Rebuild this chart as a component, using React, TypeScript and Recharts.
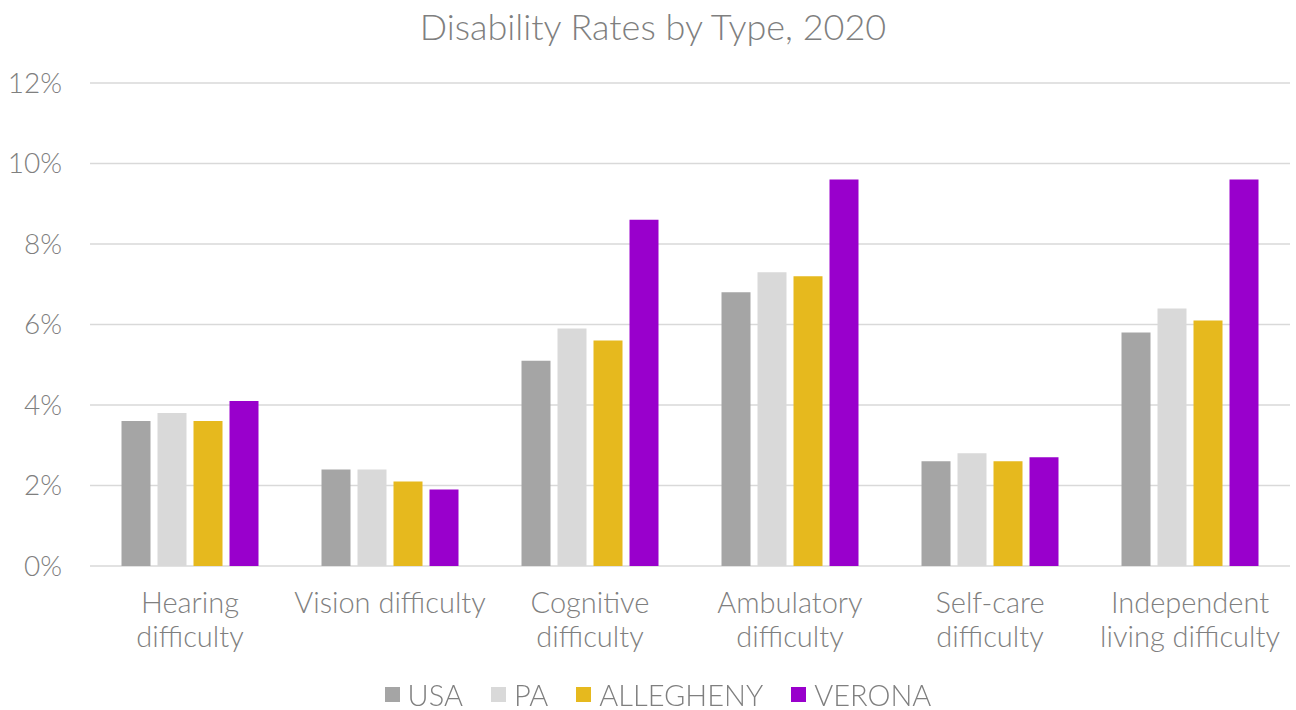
import { BarChart, Bar, XAxis, YAxis, CartesianGrid } from "recharts";

const C = {
  text: "#7f7f7f",
  grid: "#d9d9d9",
  usa: "#a5a5a5",
  pa: "#d9d9d9",
  allegheny: "#e6b91e",
  verona: "#9900cc",
};

const FONT = "Lato, 'Noto Sans', sans-serif";

const categories = [
  "Hearing\ndifficulty",
  "Vision difficulty",
  "Cognitive\ndifficulty",
  "Ambulatory\ndifficulty",
  "Self-care\ndifficulty",
  "Independent\nliving difficulty",
];
const usa = [3.6, 2.4, 5.1, 6.8, 2.6, 5.8];
const pa = [3.8, 2.4, 5.9, 7.3, 2.8, 6.4];
const allegheny = [3.6, 2.1, 5.6, 7.2, 2.6, 6.1];
const verona = [4.1, 1.9, 8.6, 9.6, 2.7, 9.6];
const yTicks = [0, 2, 4, 6, 8, 10, 12];

const series = [
  { key: "USA", color: C.usa, values: usa },
  { key: "PA", color: C.pa, values: pa },
  { key: "ALLEGHENY", color: C.allegheny, values: allegheny },
  { key: "VERONA", color: C.verona, values: verona },
];

const data = categories.map((name, i) => {
  const row: Record<string, string | number> = { name };
  series.forEach((s) => (row[s.key] = s.values[i]));
  return row;
});

function CategoryTick({ x, y, payload }: any) {
  const lines = String(payload.value).split("\n");
  return (
    <text
      x={x}
      y={y}
      textAnchor="middle"
      fill={C.text}
      fontSize={29}
      fontWeight={300}
      fontFamily={FONT}
    >
      {lines.map((line, i) => (
        <tspan key={i} x={x} dy={i === 0 ? 39 : 34}>
          {line}
        </tspan>
      ))}
    </text>
  );
}

export default function App() {
  return (
    <div
      style={{
        position: "fixed",
        left: 0,
        top: 0,
        width: 1296,
        height: 710,
        background: "#fff",
        fontFamily: FONT,
      }}
    >
      <div
        style={{
          position: "absolute",
          top: 4,
          left: 0,
          width: 1306,
          textAlign: "center",
          fontSize: 36,
          fontWeight: 300,
          color: C.text,
        }}
      >
        Disability Rates by Type, 2020
      </div>
      <BarChart
        width={1296}
        height={710}
        data={data}
        margin={{ top: 83, right: 6, bottom: 44, left: 0 }}
        barCategoryGap="15.75%"
        barGap={7}
      >
        <CartesianGrid vertical={false} stroke={C.grid} strokeWidth={1.5} />
        <XAxis
          dataKey="name"
          axisLine={false}
          tickLine={false}
          interval={0}
          height={100}
          tick={<CategoryTick />}
        />
        <YAxis
          domain={[0, 12]}
          ticks={yTicks}
          width={90}
          axisLine={false}
          tickLine={false}
          tickSize={0}
          tickMargin={28}
          tickFormatter={(v) => `${v}%`}
          tick={{ fill: C.text, fontSize: 28, fontWeight: 300, fontFamily: FONT }}
        />
        {series.map((s) => (
          <Bar key={s.key} dataKey={s.key} fill={s.color} isAnimationActive={false} />
        ))}
      </BarChart>
      <div
        style={{
          position: "absolute",
          top: 677,
          left: 0,
          width: 1316,
          display: "flex",
          justifyContent: "center",
          gap: 28,
          fontSize: 29,
          fontWeight: 300,
          color: C.text,
        }}
      >
        {series.map((s) => (
          <div key={s.key} style={{ display: "flex", alignItems: "center", gap: 8 }}>
            <span style={{ width: 15, height: 15, background: s.color, display: "inline-block" }} />
            <span>{s.key}</span>
          </div>
        ))}
      </div>
    </div>
  );
}
